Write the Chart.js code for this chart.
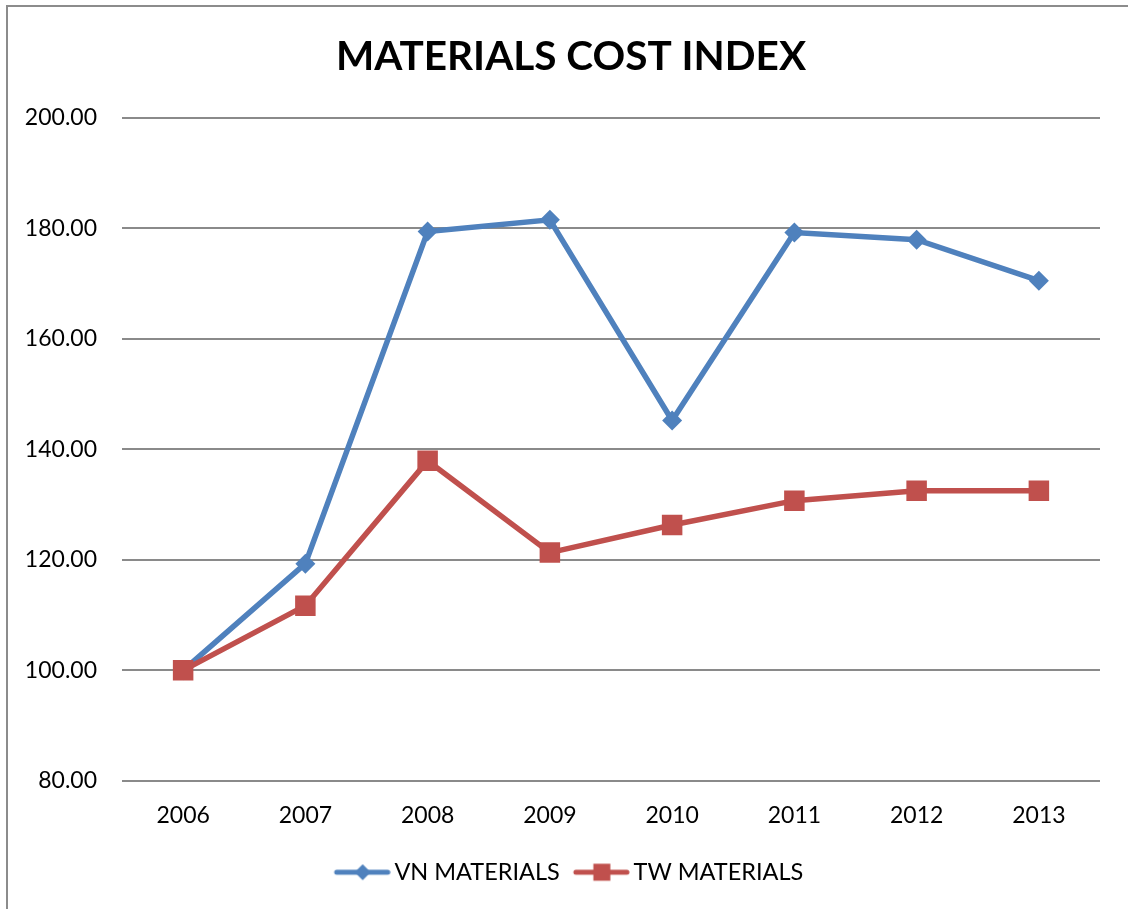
<!DOCTYPE html>
<html>
<head>
<meta charset="utf-8">
<title>Materials Cost Index</title>
<script src="https://cdn.jsdelivr.net/npm/chart.js@4/dist/chart.umd.min.js"></script>
<style>
  html, body { margin: 0; padding: 0; background: #fff; }
  #wrap { position: relative; width: 1128px; height: 909px; }
</style>
</head>
<body>
<div id="wrap"><canvas id="cost-chart" width="1128" height="909"></canvas></div>
<script>
// Index values, 2006 = 100
const years = ['2006', '2007', '2008', '2009', '2010', '2011', '2012', '2013'];
const vnMaterials = [100, 119.3, 179.4, 181.5, 145.2, 179.2, 177.9, 170.5];
const twMaterials = [100, 111.7, 137.9, 121.3, 126.3, 130.7, 132.5, 132.5];
const seriesNames = ['VN MATERIALS', 'TW MATERIALS'];

const BLUE = '#4f81bd';
const RED = '#c0504d';
const GRID = '#8a8a8a';
const FONT = 'Lato, "Open Sans", sans-serif';

// Legend swatch: short line with the marker in its middle
function makeSwatch(color, shape) {
  const c = document.createElement('canvas');
  c.width = 60;
  c.height = 22;
  const ctx = c.getContext('2d');
  ctx.strokeStyle = color;
  ctx.fillStyle = color;
  ctx.lineWidth = 5;
  ctx.lineCap = 'round';
  ctx.beginPath();
  ctx.moveTo(6, 11);
  ctx.lineTo(57, 11);
  ctx.stroke();
  const cx = 32;
  if (shape === 'diamond') {
    ctx.beginPath();
    ctx.moveTo(cx, 3);
    ctx.lineTo(cx + 8, 11);
    ctx.lineTo(cx, 19);
    ctx.lineTo(cx - 8, 11);
    ctx.closePath();
    ctx.fill();
  } else {
    ctx.fillRect(cx - 8.5, 2.5, 17, 17);
  }
  return c;
}

const swatches = [makeSwatch(BLUE, 'diamond'), makeSwatch(RED, 'square')];

// White background plus the grey frame on the left and top edges
const framePlugin = {
  id: 'frame',
  beforeDraw(chart) {
    const ctx = chart.ctx;
    ctx.save();
    ctx.fillStyle = '#fff';
    ctx.fillRect(0, 0, chart.width, chart.height);
    ctx.strokeStyle = '#8c8c8c';
    ctx.lineWidth = 2;
    ctx.beginPath();
    ctx.moveTo(7, chart.height);
    ctx.lineTo(7, 6);
    ctx.lineTo(chart.width, 6);
    ctx.stroke();
    ctx.restore();
  }
};

new Chart(document.getElementById('cost-chart'), {
  type: 'line',
  data: {
    labels: years,
    datasets: [
      {
        label: seriesNames[0],
        data: vnMaterials,
        borderColor: BLUE,
        backgroundColor: BLUE,
        borderWidth: 5.5,
        pointStyle: 'rectRot',
        pointRadius: 10,
        pointBorderWidth: 0,
        tension: 0,
        order: 2
      },
      {
        label: seriesNames[1],
        data: twMaterials,
        borderColor: RED,
        backgroundColor: RED,
        borderWidth: 5.5,
        pointStyle: 'rect',
        pointRadius: 14.5,
        pointBorderWidth: 0,
        tension: 0,
        order: 1
      }
    ]
  },
  options: {
    responsive: false,
    animation: false,
    layout: { padding: { left: 22, right: 8, top: 0, bottom: 15 } },
    scales: {
      x: {
        offset: true,
        grid: { display: false, tickLength: 8 },
        border: { display: false },
        ticks: {
          color: '#000',
          padding: 13,
          maxRotation: 0,
          font: { family: FONT, size: 23 }
        }
      },
      y: {
        min: 80,
        max: 200,
        afterFit(scale) { scale.width = 100; },
        grid: { color: GRID, lineWidth: 2, drawTicks: false },
        border: { display: false },
        ticks: {
          stepSize: 20,
          color: '#000',
          padding: 25,
          font: { family: FONT, size: 23 },
          callback: v => v.toFixed(2)
        }
      },
      // empty strip on the right so the plot ends short of the edge
      spacer: {
        type: 'linear',
        position: 'right',
        grid: { display: false },
        border: { display: false },
        ticks: { display: false },
        afterFit(scale) { scale.width = 20; }
      }
    },
    plugins: {
      title: {
        display: true,
        text: 'MATERIALS COST INDEX',
        color: '#000',
        font: { family: FONT, size: 40.5, weight: 'bold' },
        padding: { top: 33, bottom: 36 }
      },
      legend: {
        position: 'bottom',
        labels: {
          usePointStyle: true,
          pointStyleWidth: 44,
          padding: 18,
          color: '#000',
          font: { family: FONT, size: 23.5 },
          generateLabels: chart => chart.data.datasets.map((ds, i) => ({
            text: ds.label,
            pointStyle: swatches[i],
            fillStyle: ds.borderColor,
            strokeStyle: ds.borderColor,
            lineWidth: 0,
            hidden: false,
            datasetIndex: i
          }))
        }
      },
      tooltip: { enabled: false }
    }
  },
  plugins: [framePlugin]
});
</script>
</body>
</html>
